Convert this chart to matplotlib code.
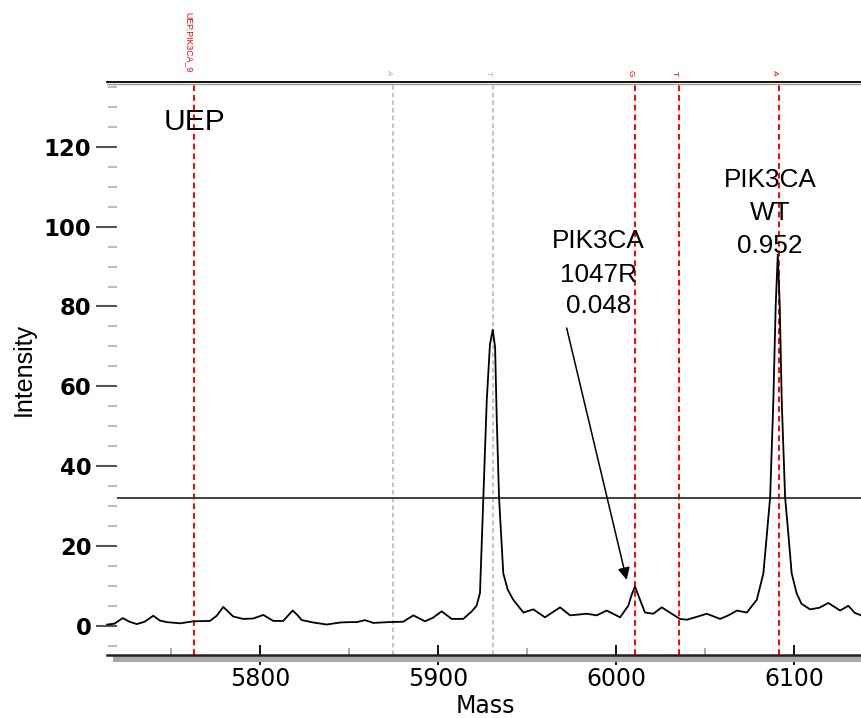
import matplotlib
matplotlib.use("Agg")
import matplotlib.pyplot as plt
from matplotlib.patches import Rectangle
from matplotlib.transforms import blended_transform_factory

plt.rcParams["font.family"] = ["Liberation Sans", "DejaVu Sans"]

# spectrum trace
mass = [5714, 5718, 5722.7, 5726.5, 5730.6, 5735, 5739.9, 5743.5, 5747.4, 5755,
        5762.4, 5771.7, 5775.5, 5779.2, 5782, 5784.8, 5790.4, 5796, 5801.7, 5807.3,
        5812.9, 5815.5, 5818.2, 5821, 5823.3, 5829.8, 5837.3, 5844.8, 5850, 5854.2,
        5858.8, 5863.5, 5872, 5880.3, 5886, 5892.5, 5897, 5901.9, 5907.5, 5914,
        5918.8, 5921.5, 5923.4, 5925.3, 5927.2, 5929.0, 5930.6, 5931.9, 5932.8, 5934.1,
        5936.5, 5939, 5942.1, 5947.8, 5953.4, 5959.9, 5968.4, 5974.0, 5983.4, 5989,
        5994.6, 6002.1, 6006.7, 6008.8, 6010.5, 6013.3, 6016.1, 6020.8, 6025.5, 6031.1,
        6035.8, 6039.6, 6045, 6050.8, 6058.3, 6063, 6067.7, 6073.3, 6078.9, 6082.6,
        6084.6, 6086.4, 6088.2, 6089.5, 6090.7, 6091.8, 6092.9, 6094.8, 6096.6, 6098.5,
        6101.3, 6104, 6108.8, 6114, 6119.1, 6125.7, 6130.3, 6134, 6137.5]
intensity = [0.3, 0.5, 1.9, 1.0, 0.4, 1.0, 2.5, 1.3, 0.9, 0.6,
             1.1, 1.2, 2.5, 4.7, 3.5, 2.3, 1.7, 1.8, 2.7, 1.2,
             1.2, 2.5, 3.8, 2.6, 1.4, 0.8, 0.3, 0.8, 0.9, 0.9,
             1.4, 0.7, 0.9, 1.0, 2.6, 1.1, 2.0, 3.6, 1.7, 1.7,
             3.6, 5.0, 8.2, 32.2, 56.4, 70.5, 74.2, 69.7, 52.2, 32.2,
             13.1, 9.0, 6.5, 3.3, 4.1, 2.1, 4.6, 2.6, 3.0, 2.6,
             3.8, 2.1, 5.0, 8.0, 9.8, 6.5, 3.3, 3.0, 4.6, 3.0,
             1.7, 1.5, 2.2, 3.0, 1.7, 2.6, 3.8, 3.3, 6.5, 13.1,
             23.1, 32.2, 56.4, 80.0, 93.0, 80.0, 56.4, 32.2, 23.1, 13.1,
             8.1, 5.5, 4.1, 4.5, 5.7, 3.8, 5.0, 3.2, 2.6]

# expected mass markers
marker_mass = [5763.0, 5874.6, 5930.9, 6010.5, 6035.0, 6091.2]
marker_label = ["UEP.PIK3CA_9", "A", "T", "G", "T", "A"]
marker_color = ["red", "#b4b4b4", "#b4b4b4", "red", "red", "red"]

threshold = 32.1

x_major = [5800, 5900, 6000, 6100]
x_minor = [5750, 5850, 5950, 6050]
y_major = [0, 20, 40, 60, 80, 100, 120]
y_minor = [v for v in range(-5, 140, 5) if v % 20 != 0]

uep_text = ("UEP", 5762.8, 124.2)
mut_lines = ["PIK3CA", "1047R", "0.048"]
mut_x, mut_y = 5989.9, [94.6, 86.2, 78.3]
wt_lines = ["PIK3CA", "WT", "0.952"]
wt_x, wt_y = 6086.2, [110.0, 101.7, 93.3]
arrow_from = (5972.1, 74.6)
arrow_to = (6005.8, 11.5)

fig = plt.figure(figsize=(8.62, 7.18), dpi=100)
ax = fig.add_axes([117 / 862, 63 / 718, 745 / 862, 573 / 718])
ax.set_xlim(5719.5, 6138.0)
ax.set_ylim(-7.34, 136.26)

for m, c in zip(marker_mass, marker_color):
    ax.axvline(m, color=c, lw=1.4 if c == "red" else 1.1, ls=(0, (3, 2)), zorder=1)
ax.axhline(threshold, color="#333333", lw=1.3, zorder=2)
ax.plot(mass, intensity, color="black", lw=1.3, zorder=3, clip_on=False)

for s in ax.spines.values():
    s.set_visible(False)

# axis frame lines in the style of the original software
tr = ax.transAxes
x0 = -10 / 745
ax.plot([x0, 1], [1, 1], transform=tr, color="black", lw=1.3, clip_on=False, zorder=5)
ax.plot([x0, 1], [1 - 2 / 573, 1 - 2 / 573], transform=tr, color="#999999", lw=1.0,
        clip_on=False, zorder=5)
ax.add_patch(Rectangle((-4 / 745, -7 / 573), 1 + 4 / 745, 7 / 573, transform=tr,
                       facecolor="#a8a8a8", edgecolor="none", clip_on=False, zorder=4))
ax.plot([x0, 1], [0, 0], transform=tr, color="#222222", lw=1.8, clip_on=False, zorder=5)

ax.set_xticks(x_major)
ax.set_xticks(x_minor, minor=True)
ax.set_xticklabels([str(v) for v in x_major], fontfamily="DejaVu Sans", fontsize=17)
ax.tick_params(axis="x", which="major", direction="inout", length=15, width=1.3,
               color="black", pad=1)
ax.tick_params(axis="x", which="minor", direction="in", length=5.3, width=1.2,
               color="#9a9a9a")

ax.set_yticks(y_major)
ax.set_yticks(y_minor, minor=True)
ax.set_yticklabels([str(v) for v in y_major], fontfamily="DejaVu Sans",
                   fontweight="bold", fontsize=16.4)
ax.tick_params(axis="y", which="major", direction="out", length=14.8, width=1.5,
               color="#555555", pad=3.6)
ax.tick_params(axis="y", which="minor", direction="out", length=6.5, width=1.5,
               color="#bbbbbb")

fig.text(485 / 862, 1 - 694 / 718, "Mass", fontfamily="DejaVu Sans", fontsize=17,
         ha="center", va="top")
fig.text(24 / 862, 1 - 369 / 718, "Intensity", fontsize=18,
         rotation=90, ha="center", va="center")

# labels above the marker lines
btr = blended_transform_factory(ax.transData, ax.transAxes)
for i, (m, lab, c) in enumerate(zip(marker_mass, marker_label, marker_color)):
    big = i == 0
    ax.annotate(lab, xy=(m, 1), xycoords=btr,
                xytext=(-4.3 if big else -3.3, 7.0 if big else 4.3),
                textcoords="offset points", rotation=-90, ha="center", va="bottom",
                color=c, fontsize=6.3 if big else 6,
                annotation_clip=False)

ax.text(uep_text[1], uep_text[2], uep_text[0], fontsize=21.6, ha="center", va="baseline")
for t, yy in zip(mut_lines, mut_y):
    ax.text(mut_x, yy, t, fontsize=18.8, ha="center", va="baseline", zorder=6)
for t, yy in zip(wt_lines, wt_y):
    ax.text(wt_x, yy, t, fontsize=18.8, ha="center", va="baseline", zorder=6)

ax.annotate("", xy=arrow_to, xytext=arrow_from,
            arrowprops=dict(arrowstyle="-|>", color="black", lw=1.1,
                            mutation_scale=18, shrinkA=0, shrinkB=0))

fig.savefig("out.png", dpi=100)
